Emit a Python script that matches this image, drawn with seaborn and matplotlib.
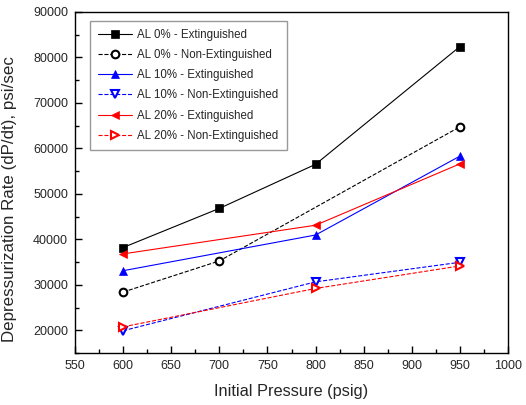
import matplotlib
matplotlib.use("Agg")
import matplotlib.pyplot as plt
import seaborn as sns
import pandas as pd
from matplotlib.ticker import MultipleLocator

sns.set_theme(style="white")
plt.rcParams['font.family'] = ['Liberation Sans', 'DejaVu Sans']

x_al0_ext = [600, 700, 800, 950]
y_al0_ext = [38200, 46800, 56500, 82400]
x_al0_non = [600, 700, 950]
y_al0_non = [28400, 35250, 64750]
x_al10_ext = [600, 800, 950]
y_al10_ext = [33100, 40950, 58300]
x_al10_non = [600, 800, 950]
y_al10_non = [19900, 30650, 34950]
x_al20_ext = [600, 800, 950]
y_al20_ext = [36800, 43100, 56600]
x_al20_non = [600, 800, 950]
y_al20_non = [20750, 29200, 34150]

labels = ["AL 0% - Extinguished", "AL 0% - Non-Extinguished",
          "AL 10% - Extinguished", "AL 10% - Non-Extinguished",
          "AL 20% - Extinguished", "AL 20% - Non-Extinguished"]

series = [
    (x_al0_ext, y_al0_ext, "#000000", "s", "-", True),
    (x_al0_non, y_al0_non, "#000000", "o", "--", False),
    (x_al10_ext, y_al10_ext, "#0000FF", "^", "-", True),
    (x_al10_non, y_al10_non, "#0000FF", "v", "--", False),
    (x_al20_ext, y_al20_ext, "#FF0000", "<", "-", True),
    (x_al20_non, y_al20_non, "#FF0000", ">", "--", False),
]

fig = plt.figure(figsize=(5.26, 4.05), dpi=100)
ax = fig.add_axes([0.1426, 0.1284, 0.8232, 0.842])

for (xs, ys, c, m, ls, filled), lab in zip(series, labels):
    df = pd.DataFrame({"x": xs, "y": ys})
    sns.lineplot(data=df, x="x", y="y", ax=ax, color=c, linewidth=0.8,
                 linestyle=ls, label=lab, marker=m, markersize=5.5,
                 markerfacecolor=(c if filled else "white"),
                 markeredgecolor=c, markeredgewidth=1.5 if not filled else 0.5,
                 dashes=(2.5, 2.5) if ls == "--" else "")

ax.set_xlim(550, 1000)
ax.set_ylim(15000, 90000)
ax.xaxis.set_major_locator(MultipleLocator(50))
ax.xaxis.set_minor_locator(MultipleLocator(25))
ax.yaxis.set_major_locator(MultipleLocator(10000))
ax.yaxis.set_minor_locator(MultipleLocator(5000))
ax.tick_params(which="major", direction="in", length=5, width=1, labelsize=9,
               color="black", bottom=True, left=True, pad=5)
ax.tick_params(which="minor", direction="in", length=3, width=1,
               color="black", bottom=True, left=True)
for s in ax.spines.values():
    s.set_color("black")
    s.set_linewidth(1)

ax.set_xlabel("Initial Pressure (psig)", fontsize=11.8, labelpad=9)
ax.set_ylabel("Depressurization Rate (dP/dt), psi/sec", fontsize=12.2, labelpad=5)
ax.yaxis.set_label_coords(-0.135, 0.45)

leg = ax.legend(loc="upper left", bbox_to_anchor=(0.035, 0.974), fontsize=8.3,
                frameon=True, fancybox=False, edgecolor="#808080",
                handlelength=2.95, labelspacing=0.71, borderpad=0.7,
                handletextpad=0.45, borderaxespad=0)
leg.get_frame().set_linewidth(1)

fig.savefig("out.png", dpi=100)
